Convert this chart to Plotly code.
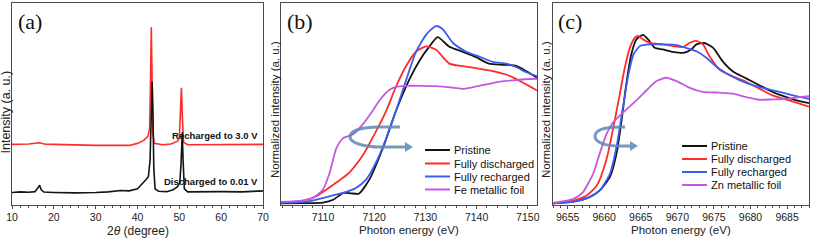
import plotly.graph_objects as go

W, H = 813, 241

# ---------------- data ----------------
# (a) XRD
xrd_dis_x = [10, 12, 14, 15.5, 16.2, 16.6, 17, 17.6, 20, 25, 30, 33, 36, 38, 40, 41, 42, 42.6, 43.0, 43.3, 43.5, 43.7, 43.9, 44.2, 45, 47, 48.5, 49.5, 50.1, 50.4, 50.7, 50.9, 51.2, 52, 55, 60, 65, 70]
xrd_dis_y = [6.2, 6.5, 6.3, 6.6, 8.5, 9.8, 7.5, 6.4, 6.2, 6.0, 6.2, 6.5, 7.2, 7.0, 8.0, 10, 12.5, 14, 22, 45, 61, 45, 18, 8, 6.8, 6.6, 7.5, 9, 11, 20, 36, 22, 8, 6.5, 6.4, 6.6, 6.5, 7.0]
xrd_rec_x = [10, 14, 16.5, 18, 20, 25, 30, 35, 38, 40, 41.5, 42.5, 42.9, 43.1, 43.3, 43.5, 43.7, 44.0, 46, 48, 49.5, 50.0, 50.3, 50.5, 50.7, 51.0, 52, 55, 60, 65, 70]
xrd_rec_y = [30, 30.2, 30.8, 30.1, 30, 29.6, 29.5, 29.6, 29.5, 30.5, 32, 34, 38, 60, 88, 60, 35, 30.5, 29.8, 30.2, 31.5, 33, 45, 58, 45, 31, 29.8, 29.8, 29.8, 29.9, 30]

# (b) Fe K-edge XANES
fe_pri_x = [7101.8, 7106, 7110, 7112, 7114, 7115.5, 7117, 7119.1, 7121.7, 7124.3, 7126.9, 7128.9, 7130.8, 7132.4, 7134.6, 7137.2, 7139.8, 7142.4, 7145.0, 7147.6, 7149.5, 7151.8]
fe_pri_y = [0.008, 0.009, 0.012, 0.026, 0.06, 0.058, 0.056, 0.128, 0.282, 0.469, 0.623, 0.717, 0.785, 0.831, 0.785, 0.759, 0.733, 0.700, 0.694, 0.690, 0.666, 0.630]
fe_dis_x = [7101.8, 7104, 7106.1, 7108.7, 7110.7, 7112.6, 7115.2, 7117.8, 7120.4, 7122.4, 7124.3, 7126.3, 7128.2, 7130.2, 7132.1, 7134.7, 7138.6, 7142.5, 7146.4, 7151.8]
fe_dis_y = [0.012, 0.015, 0.022, 0.043, 0.077, 0.111, 0.162, 0.247, 0.367, 0.469, 0.589, 0.691, 0.760, 0.785, 0.768, 0.700, 0.683, 0.666, 0.640, 0.567]
fe_rec_x = [7101.8, 7105, 7108, 7111.3, 7114.6, 7116.5, 7118.5, 7120.4, 7122.4, 7124.3, 7126.3, 7128.2, 7130.2, 7132.1, 7133.4, 7135.4, 7138.0, 7140.6, 7143.2, 7145.8, 7147.7, 7149.7, 7151.8]
fe_rec_y = [0.012, 0.013, 0.022, 0.043, 0.065, 0.085, 0.128, 0.213, 0.333, 0.469, 0.623, 0.760, 0.845, 0.886, 0.870, 0.802, 0.759, 0.734, 0.708, 0.700, 0.683, 0.657, 0.638]
fe_foil_x = [7101.8, 7106, 7108, 7110, 7111.3, 7112.6, 7113.9, 7115.9, 7117.8, 7119.8, 7121.1, 7123.0, 7124.3, 7126.3, 7128.9, 7132.1, 7135.4, 7137.6, 7140.5, 7144.4, 7148.3, 7151.8]
fe_foil_y = [0.015, 0.022, 0.034, 0.077, 0.16, 0.28, 0.33, 0.35, 0.40, 0.47, 0.52, 0.57, 0.585, 0.590, 0.590, 0.588, 0.581, 0.575, 0.590, 0.610, 0.620, 0.625]

# (c) Zn K-edge XANES
zn_pri_x = [9653, 9655.8, 9658, 9659.4, 9660.8, 9661.7, 9662.4, 9663, 9663.7, 9664.4, 9665.3, 9666, 9666.9, 9668, 9669.4, 9670.8, 9671.9, 9672.6, 9673.7, 9674.9, 9676.2, 9677.6, 9679.4, 9681.2, 9683, 9684.9, 9686.7, 9688]
zn_pri_y = [0.008, 0.017, 0.039, 0.072, 0.140, 0.257, 0.425, 0.593, 0.745, 0.820, 0.842, 0.820, 0.778, 0.770, 0.758, 0.753, 0.770, 0.795, 0.802, 0.778, 0.711, 0.661, 0.627, 0.593, 0.560, 0.534, 0.514, 0.504]
zn_dis_x = [9653, 9655.8, 9657.6, 9659, 9660.3, 9661.2, 9662.1, 9662.8, 9663.5, 9664.2, 9664.6, 9665.3, 9666.2, 9668, 9669.4, 9670.8, 9671.7, 9672.6, 9673.5, 9674.4, 9675.8, 9677.1, 9678.9, 9681.2, 9683, 9685.3, 9688]
zn_dis_y = [0.008, 0.022, 0.047, 0.097, 0.224, 0.375, 0.543, 0.677, 0.778, 0.829, 0.837, 0.820, 0.803, 0.795, 0.787, 0.782, 0.803, 0.812, 0.795, 0.736, 0.669, 0.644, 0.618, 0.576, 0.543, 0.518, 0.487]
zn_rec_x = [9653, 9655.8, 9658, 9659.4, 9660.8, 9661.7, 9662.6, 9663.3, 9664, 9664.9, 9666.2, 9668, 9669.9, 9671.2, 9672.6, 9674, 9675.3, 9676.7, 9678.5, 9680.3, 9682.1, 9684, 9685.8, 9688]
zn_rec_y = [0.008, 0.017, 0.039, 0.072, 0.156, 0.291, 0.492, 0.644, 0.745, 0.787, 0.795, 0.795, 0.792, 0.778, 0.761, 0.728, 0.686, 0.652, 0.618, 0.593, 0.576, 0.560, 0.543, 0.526]
zn_foil_x = [9653, 9655.8, 9657.1, 9658.5, 9659.4, 9660.3, 9661.2, 9662.6, 9664.4, 9665.8, 9667.1, 9668.5, 9669.9, 9671.7, 9673.5, 9675.8, 9677.6, 9679.4, 9681.2, 9683, 9684.9, 9686.7, 9688]
zn_foil_y = [0.010, 0.030, 0.064, 0.156, 0.257, 0.350, 0.408, 0.459, 0.518, 0.568, 0.613, 0.630, 0.613, 0.580, 0.560, 0.556, 0.551, 0.534, 0.521, 0.523, 0.526, 0.534, 0.539]

legend_names = ["Pristine", "Fully discharged", "Fully recharged"]
foil_names = ["Fe metallic foil", "Zn metallic foil"]
xrd_labels = ["Recharged to 3.0 V", "Discharged to 0.01 V"]

# ---------------- style ----------------
BLACK = "#141414"
RED = "#ff2b2b"
BLUE = "#3a5cf0"
PURPLE = "#c459e0"
AXC = "#4a4a4a"
FONT = "Liberation Sans, Arial, sans-serif"

def px(x):
    return x / W

def py(y):
    return 1 - y / H

fig = go.Figure()

# panel a
fig.add_trace(go.Scatter(x=xrd_rec_x, y=xrd_rec_y, mode="lines", line=dict(color=RED, width=1.6),
                         xaxis="x", yaxis="y", showlegend=False))
fig.add_trace(go.Scatter(x=xrd_dis_x, y=xrd_dis_y, mode="lines", line=dict(color=BLACK, width=1.6),
                         xaxis="x", yaxis="y", showlegend=False))

series_b = [(fe_pri_x, fe_pri_y, BLACK, legend_names[0]),
            (fe_dis_x, fe_dis_y, RED, legend_names[1]),
            (fe_rec_x, fe_rec_y, BLUE, legend_names[2]),
            (fe_foil_x, fe_foil_y, PURPLE, foil_names[0])]
series_c = [(zn_pri_x, zn_pri_y, BLACK, legend_names[0]),
            (zn_dis_x, zn_dis_y, RED, legend_names[1]),
            (zn_rec_x, zn_rec_y, BLUE, legend_names[2]),
            (zn_foil_x, zn_foil_y, PURPLE, foil_names[1])]

for xs, ys, c, n in series_b:
    fig.add_trace(go.Scatter(x=xs, y=ys, mode="lines", name=n, showlegend=False,
                             line=dict(color=c, width=1.8, shape="spline", smoothing=0.6),
                             xaxis="x2", yaxis="y2"))
for xs, ys, c, n in series_c:
    fig.add_trace(go.Scatter(x=xs, y=ys, mode="lines", name=n, showlegend=False,
                             line=dict(color=c, width=1.8, shape="spline", smoothing=0.6),
                             xaxis="x3", yaxis="y3"))

ybot, ytop = 205, 3
common_x = dict(showline=True, mirror=True, linecolor=AXC, linewidth=1, ticks="outside", ticklen=3,
                tickcolor=AXC, tickfont=dict(family=FONT, size=10.5, color="#222"), showgrid=False, zeroline=False,
                automargin=False, ticklabelstandoff=-1, minor=dict(ticks="outside", ticklen=2, tickcolor=AXC))
common_y = dict(showline=True, mirror=True, linecolor=AXC, linewidth=1, ticks="", showticklabels=False,
                showgrid=False, zeroline=False, automargin=False)

fig.update_layout(
    width=W, height=H, margin=dict(l=0, r=0, t=0, b=0, autoexpand=False),
    paper_bgcolor="white", plot_bgcolor="white", showlegend=False,
    xaxis=dict(domain=[px(12), px(263)], range=[10, 70], dtick=10, anchor="y", **common_x),
    yaxis=dict(domain=[py(ybot), py(ytop)], range=[0, 100], anchor="x", **common_y),
    xaxis2=dict(domain=[px(281), px(537)], range=[7101.8, 7151.8], dtick=10, anchor="y2", **common_x),
    yaxis2=dict(domain=[py(ybot), py(ytop)], range=[0, 1.0], anchor="x2", **common_y),
    xaxis3=dict(domain=[px(553), px(809)], range=[9653, 9688], dtick=5, tick0=9655, anchor="y3", **common_x),
    yaxis3=dict(domain=[py(ybot), py(ytop)], range=[0, 1.0], anchor="x3", **common_y),
)

ann = []
TF = dict(family=FONT, size=12, color="#222")
TF2 = dict(family=FONT, size=11.5, color="#222")
C = dict(xref="paper", yref="paper", xanchor="center", yanchor="middle", showarrow=False)
# axis titles
ann.append(dict(text="2<i>θ</i> (degree)", x=px(137.5), y=py(231), font=TF, **C))
ann.append(dict(text="Photon energy (eV)", x=px(409), y=py(230), font=TF2, **C))
ann.append(dict(text="Photon energy (eV)", x=px(681), y=py(230), font=TF2, **C))
ann.append(dict(text="Intensity (a. u.)", x=px(5.5), y=py(112), textangle=-90,
                font=dict(family=FONT, size=12.5, color="#222"), **C))
ann.append(dict(text="Normalized intensity (a. u.)", x=px(275), y=py(110), textangle=-90, font=TF2, **C))
ann.append(dict(text="Normalized intensity (a. u.)", x=px(546), y=py(110), textangle=-90, font=TF2, **C))
# panel labels
for t, xc in [("(a)", 30), ("(b)", 300), ("(c)", 570)]:
    ann.append(dict(text=t, x=px(xc), y=py(21),
                    font=dict(family="Liberation Serif, Times New Roman, serif", size=22, color="#111"), **C))
# XRD labels
ann.append(dict(text="<b>" + xrd_labels[0] + "</b>", x=69.3, y=34.5, xref="x", yref="y", xanchor="right",
                yanchor="middle", showarrow=False, font=dict(family=FONT, size=9.5, color="#111")))
ann.append(dict(text="<b>" + xrd_labels[1] + "</b>", x=69.3, y=11.5, xref="x", yref="y", xanchor="right",
                yanchor="middle", showarrow=False, font=dict(family=FONT, size=9.5, color="#111")))

# custom legends (line sample + label)
LF = dict(family=FONT, size=11, color="#111")
for series, x0, rows in [(series_b, 425, [150, 163.5, 176.5, 189.5]),
                         (series_c, 682, [146, 159, 172, 185])]:
    for (xs, ys, c, n), ry in zip(series, rows):
        fig.add_shape(type="line", xref="paper", yref="paper", x0=px(x0), x1=px(x0 + 25), y0=py(ry), y1=py(ry),
                      line=dict(color=c, width=2))
        ann.append(dict(text=n, x=px(x0 + 27), y=py(ry), xref="paper", yref="paper", xanchor="left",
                        yanchor="middle", showarrow=False, font=LF))
fig.update_layout(annotations=ann)

# circular arrows (decoration)
def path(cmds):
    out = []
    for c in cmds:
        if isinstance(c, str):
            out.append(c)
        else:
            out.append(f"{px(c[0]):.5f},{py(c[1]):.5f}")
    return " ".join(out)

ARROW = "rgba(95,135,180,0.85)"
for (cx, top, left, bot, right) in [(380, 127, 350, 147, 405), (620, 127, 595, 146, 630)]:
    p = path(["M", (right - 5, top), "L", (cx, top), "C", (cx - 20, top), (left, top + 4), (left, (top + bot) / 2),
              "C", (left, bot - 4), (cx - 15, bot), (cx, bot), "L", (right, bot)])
    fig.add_shape(type="path", path=p, xref="paper", yref="paper", line=dict(color=ARROW, width=3))
    tri = path(["M", (right, bot - 5), "L", (right + 8, bot), "L", (right, bot + 5), "Z"])
    fig.add_shape(type="path", path=tri, xref="paper", yref="paper", line=dict(color=ARROW, width=0),
                  fillcolor=ARROW)

fig.write_html("out.html", config={"displayModeBar": False},
               post_script="document.body.style.margin='0';document.body.style.padding='0';")
